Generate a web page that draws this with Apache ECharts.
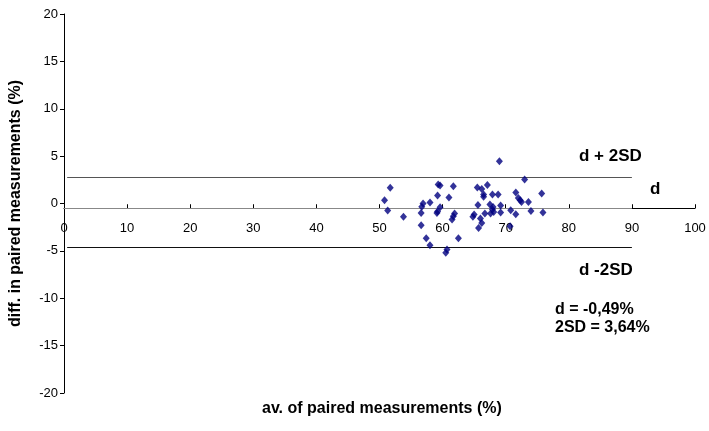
<!DOCTYPE html>
<html>
<head>
<meta charset="utf-8">
<script src="https://cdn.jsdelivr.net/npm/echarts@6/dist/echarts.min.js"></script>
<style>
  html, body { margin: 0; padding: 0; background: #fff; }
  #chart { width: 709px; height: 431px; }
</style>
</head>
<body>
<div id="chart"></div>
<script>
  // average of the pair (%) and difference within the pair (%)
  const avgValues = [
    51.7, 50.8, 51.3, 53.8, 56.6, 56.9, 56.7, 56.6, 57.4, 58.0,
    58.0, 59.3, 59.6, 59.2, 59.6, 59.2, 59.1, 61.0, 61.7, 61.9,
    61.7, 60.7, 60.5, 62.5, 69.0, 65.5, 66.2, 67.1, 66.5, 66.5,
    67.9, 68.8, 73.0, 71.6, 72.0, 72.3, 72.5, 73.6, 75.7, 65.6,
    67.5, 68.0, 67.9, 69.2, 67.6, 68.1, 66.7, 65.0, 64.8, 66.0,
    66.2, 65.7, 69.2, 70.8, 71.6, 74.0, 75.9, 70.7, 61.5
  ];
  const diffValues = [
    1.66, 0.35, -0.74, -1.41, -2.29, 0.0, -0.35, -0.99, -3.66, -4.40,
    0.1, 2.0, 1.9, 0.84, -0.4, -0.85, -1.0, 0.63, 1.83, -1.06,
    -1.34, -4.86, -5.2, -3.66, 4.47, 1.69, 1.54, 1.96, 0.95, 0.7,
    0.95, 0.95, 2.53, 1.16, 0.59, 0.35, 0.17, 0.17, 1.06, -0.15,
    -0.1, -0.36, -0.63, -0.2, -1.06, -0.89, -1.06, -1.16, -1.41, -1.58,
    -2.05, -2.58, -0.95, -0.71, -1.13, -0.8, -0.95, -2.4, -1.69
  ];

  // reference lines: d + 2SD, d, d - 2SD
  const refNames = ["d + 2SD", "d", "d -2SD"];
  const refLevels = [2.8, -0.49, -4.65];
  const refStart = [0.5, 0, 0.5];
  const refEnd = [90, 90, 90];
  const refColors = ["#555", "#888", "#111"];

  const summaryLines = ["d = -0,49%", "2SD = 3,64%"];
  const xAxisCross = -0.5;

  const font = "Liberation Sans, Arial, sans-serif";
  const points = avgValues.map((x, i) => [x, diffValues[i]]);

  const refData = refLevels.map((y, i) => [
    { coord: [refStart[i], y], lineStyle: { color: refColors[i] } },
    { coord: [refEnd[i], y] }
  ]);

  const chart = echarts.init(document.getElementById("chart"), null, { renderer: "canvas" });

  const textStyle = (text, left, top, size) => ({
    type: "text",
    left: left,
    top: top,
    style: { text: text, font: `bold ${size}px ${font}`, fill: "#000" }
  });

  chart.setOption({
    animation: false,
    grid: { left: 63, right: 14, top: 14, bottom: 38 },
    xAxis: {
      type: "value",
      min: 0,
      max: 100,
      interval: 10,
      axisLine: { onZero: false, lineStyle: { color: "#000", width: 1 } },
      axisTick: { inside: true, length: 4, lineStyle: { color: "#000" } },
      axisLabel: { color: "#000", fontSize: 13, fontFamily: font, margin: 14 },
      splitLine: { show: false }
    },
    yAxis: {
      type: "value",
      min: -20,
      max: 20,
      interval: 5,
      name: "diff. in paired measurements (%)",
      nameLocation: "middle",
      nameRotate: 90,
      nameGap: 40,
      nameTextStyle: { color: "#000", fontSize: 16, fontWeight: "bold", fontFamily: font },
      axisLine: { show: true, lineStyle: { color: "#000", width: 1 } },
      axisTick: { show: true, length: 4, lineStyle: { color: "#000" } },
      axisLabel: { color: "#000", fontSize: 13, fontFamily: font, margin: 6 },
      splitLine: { show: false }
    },
    series: [
      {
        type: "scatter",
        data: points,
        symbol: "diamond",
        symbolSize: [7, 8],
        itemStyle: { color: "#000080" },
        z: 5,
        markLine: {
          silent: true,
          symbol: "none",
          label: { show: false },
          lineStyle: { type: "solid", width: 1.2 },
          data: refData
        }
      }
    ],
    graphic: [
      textStyle(refNames[0], 579, 148, 17),
      textStyle(refNames[1], 650, 181, 17),
      textStyle(refNames[2], 579, 262, 17),
      textStyle(summaryLines[0], 555, 302, 16),
      textStyle(summaryLines[1], 555, 320, 16),
      {
        type: "text",
        left: 262,
        top: 401,
        style: { text: "av. of paired measurements (%)", font: `bold 16px ${font}`, fill: "#000" }
      }
    ]
  });

  // Excel-style: horizontal axis crosses near d
  const yCross = chart.convertToPixel({ yAxisIndex: 0 }, xAxisCross);
  const yBottom = chart.convertToPixel({ yAxisIndex: 0 }, -20);
  chart.setOption({ xAxis: { offset: yCross - yBottom } });
</script>
</body>
</html>
